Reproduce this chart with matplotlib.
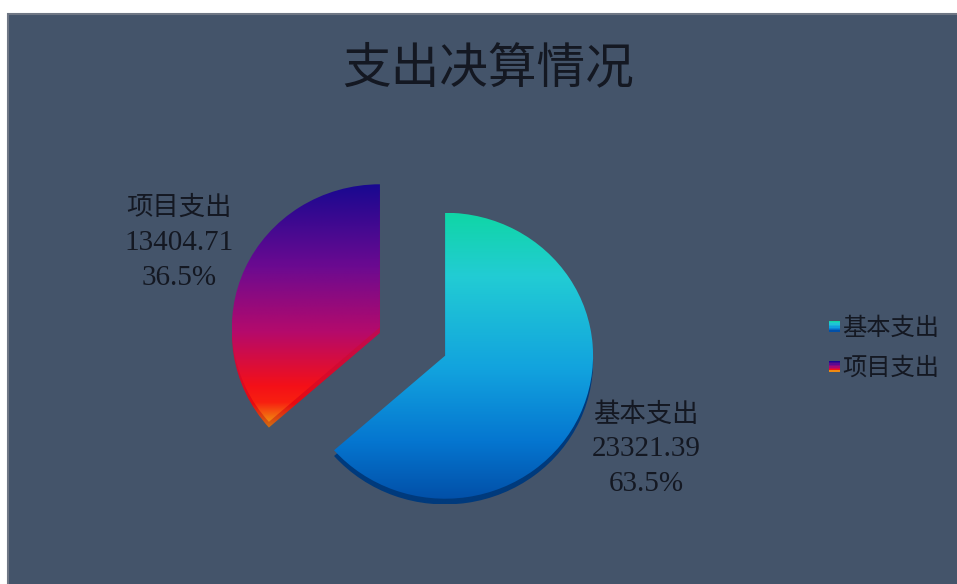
import matplotlib
matplotlib.use('Agg')
import matplotlib.pyplot as plt
import numpy as np
from matplotlib.colors import LinearSegmentedColormap
from matplotlib.patches import Rectangle
from matplotlib.legend_handler import HandlerBase

plt.rcParams['font.family'] = ['Liberation Serif', 'Noto Sans CJK SC', 'DejaVu Sans']

W, H = 957, 584
title = '支出决算情况'
categories = ['基本支出', '项目支出']
values = [23321.39, 13404.71]

# gradient colours, top of the slice to the bottom
colors_basic = [(0, '#10d6a6'), (0.22, '#22ccd4'), (0.55, '#12a2de'), (0.8, '#0576d0'), (1, '#0250a8')]
colors_project = [(0, '#180890'), (0.35, '#6c0a90'), (0.62, '#b40a6c'), (0.85, '#f41018'), (0.92, '#f82010'), (1, '#f08a10')]
depth_basic = [(0, '#003a7c'), (1, '#003a7c')]
depth_project = [(0, '#7a0a60'), (0.6, '#c00a50'), (0.9, '#e80a10'), (1, '#d07010')]

text_color = '#141822'
bg_color = '#44546a'

fig = plt.figure(figsize=(W / 100, H / 100), dpi=100, facecolor='white')
fig.add_artist(Rectangle((8 / W, -0.01), 1, 1.01 - 14 / H, transform=fig.transFigure,
                         facecolor=bg_color, edgecolor='#6f7785', linewidth=1.5, zorder=-1))

# axes sized so that radius 1 is 148 px wide and 143 px high
cx, cy = 412.5, 341.5
rx, ry = 148, 143
xspan, yspan = 1.6, 1.6
ax = fig.add_axes([(cx - xspan * rx) / W, 1 - (cy + yspan * ry) / H,
                   2 * xspan * rx / W, 2 * yspan * ry / H])
ax.patch.set_alpha(0)


def gradient_pie(stops, center, zorder):
    wedges, _ = ax.pie(values, startangle=90, counterclock=False, explode=[0.2415, 0.2415],
                       center=center, radius=1, wedgeprops={'linewidth': 0, 'facecolor': 'none'})
    for wedge, st in zip(wedges, stops):
        cmap = LinearSegmentedColormap.from_list('g', st, N=256)
        box = wedge.get_path().get_extents(wedge.get_patch_transform())
        grad = np.linspace(0, 1, 256).reshape(-1, 1)
        im = ax.imshow(grad, cmap=cmap, aspect='auto', origin='upper', zorder=zorder,
                       extent=(box.x0, box.x1, box.y0, box.y1))
        im.set_clip_path(wedge)


gradient_pie([depth_basic, depth_project], (0, -0.04), 1)
gradient_pie([colors_basic, colors_project], (0, 0), 2)
ax.set_aspect('auto')
ax.set_xlim(-xspan, xspan)
ax.set_ylim(-yspan, yspan)
ax.axis('off')

fig.text(488 / W, 1 - 69 / H, title, fontsize=35, color=text_color, ha='center', va='center')

total = sum(values)
label_pos = [(646, 449), (179, 243)]
for cat, val, pos in zip(categories, values, label_pos):
    lines = [cat, '%.2f' % val, '%.1f%%' % (val / total * 100)]
    for i, line in enumerate(lines):
        fig.text(pos[0] / W, 1 - (pos[1] + (i - 1) * 35) / H, line, fontsize=19 if i == 0 else 21,
                 color=text_color, ha='center', va='center')


class GradientHandle(HandlerBase):
    def create_artists(self, legend, orig, xd, yd, width, height, fontsize, trans):
        cmap = orig.cmap_
        n = 8
        side = 8
        x0 = width - side
        y0 = (height - side) / 2
        out = []
        for i in range(n):
            r = Rectangle((x0, y0 + side * (n - 1 - i) / n), side, side / n,
                          facecolor=cmap(i / (n - 1)), edgecolor='none', transform=trans)
            out.append(r)
        return out


handles = []
for st in [colors_basic, colors_project]:
    h = Rectangle((0, 0), 1, 1)
    h.cmap_ = LinearSegmentedColormap.from_list('g', st, N=64)
    handles.append(h)

fig.legend(handles, categories, handler_map={Rectangle: GradientHandle()}, frameon=False,
           loc='center left', bbox_to_anchor=(823 / W, 1 - 348.5 / H), fontsize=17.5,
           labelcolor=text_color, handlelength=0.7, handletextpad=0.1, labelspacing=0.72,
           borderpad=0, borderaxespad=0)

fig.savefig('out.png', dpi=100, facecolor='white')
